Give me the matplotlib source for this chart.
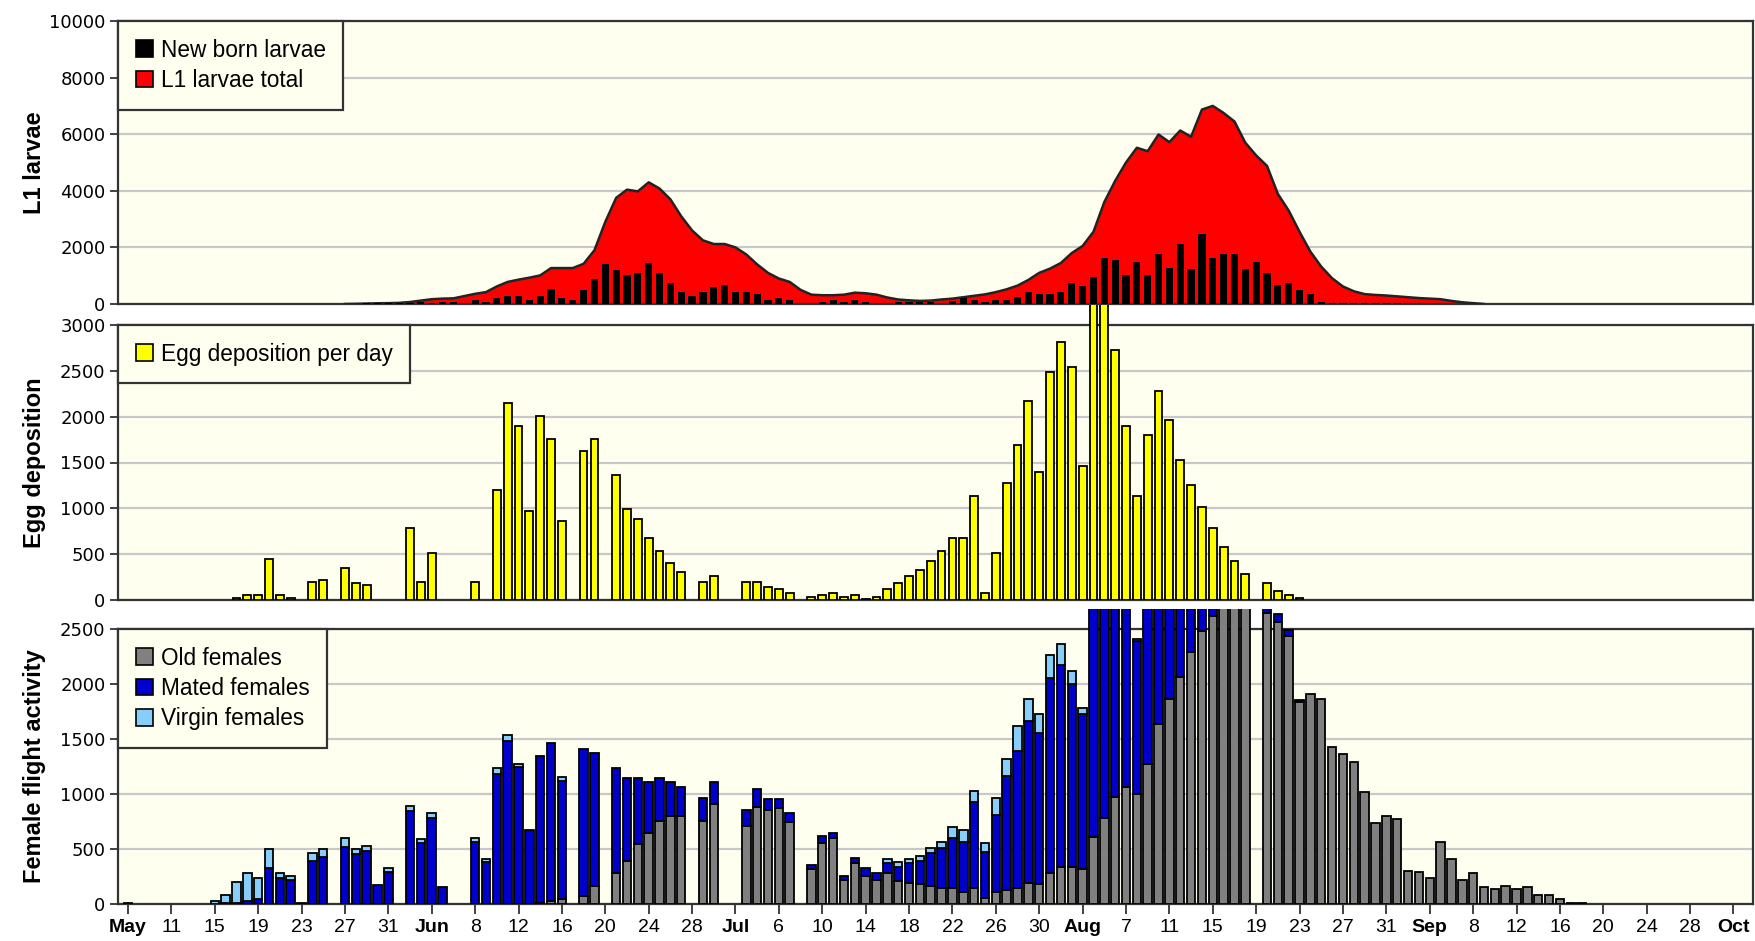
import numpy as np
import matplotlib
matplotlib.use('Agg')
import matplotlib.pyplot as plt
from matplotlib.patches import Patch, Rectangle

plt.rcParams['font.family'] = 'DejaVu Sans'

# day index 0 = May 7, one unit per day
tick_labels = ['May', '11', '15', '19', '23', '27', '31',
               'Jun', '8', '12', '16', '20', '24', '28',
               'Jul', '6', '10', '14', '18', '22', '26', '30',
               'Aug', '7', '11', '15', '19', '23', '27', '31',
               'Sep', '8', '12', '16', '20', '24', '28', 'Oct']
month_names = ['May', 'Jun', 'Jul', 'Aug', 'Sep', 'Oct']

# ---- L1 larvae ----
l1_days = list(range(20, 126))
l1_total = [0, 5, 15, 25, 30, 40, 70, 120, 170, 190,
            200, 280, 360, 420, 620, 780, 860, 930, 1010, 1270,
            1270, 1270, 1420, 1900, 2900, 3750, 4040, 3980, 4300, 4080,
            3700, 3100, 2600, 2250, 2120, 2120, 2000, 1750, 1400, 1100,
            900, 780, 500, 330, 310, 310, 330, 400, 380, 330,
            230, 160, 130, 110, 120, 160, 190, 240, 290, 340,
            420, 520, 650, 850, 1100, 1250, 1450, 1800, 2050, 2550,
            3600, 4350, 5000, 5520, 5400, 5990, 5720, 6130, 5910, 6870,
            7000, 6750, 6450, 5700, 5250, 4880, 3890, 3300, 2550, 1850,
            1320, 910, 620, 450, 350, 320, 300, 270, 240, 210,
            190, 170, 110, 60, 30, 0]

newborn_days = [22, 23, 24, 25, 26, 27, 28, 29, 30, 32, 33, 34, 35, 36, 37, 38, 39, 40,
                41, 42, 43, 44, 45, 46, 47, 48, 49, 50, 51, 52, 53, 54, 55, 56, 57, 58,
                59, 60, 61, 64, 65, 66, 67, 68, 71, 72, 73, 74, 76, 77, 78, 79, 80, 81,
                82, 83, 84, 85, 86, 87, 88, 89, 90, 91, 92, 93, 94, 95, 96, 97, 98, 99,
                100, 101, 102, 103, 104, 105, 106, 107, 108, 109, 110, 111, 112, 113,
                114, 115, 116, 117]
newborn = [20, 20, 20, 30, 40, 60, 50, 81, 81, 140, 81, 221, 291, 291, 140, 291, 547, 221,
           140, 488, 872, 1407, 1210, 1012, 1082, 1465, 1082, 744, 407, 291, 407, 616, 674, 407, 407, 349,
           140, 221, 140, 81, 140, 81, 140, 81, 81, 81, 60, 60, 93, 210, 152, 70, 152, 152,
           234, 420, 350, 350, 420, 759, 619, 969, 1611, 1553, 1027, 1494, 1027, 1751, 1284, 2137, 1238, 2487,
           1634, 1751, 1751, 1238, 1471, 1086, 677, 759, 479, 350, 60, 50, 50, 50,
           50, 50, 50, 50]

# ---- Egg deposition ----
egg_days = [10, 11, 12, 13, 14, 15, 17, 18, 20, 21, 22, 26, 27, 28, 32,
            34, 35, 36, 37, 38, 39, 40, 42, 43, 45, 46, 47, 48, 49, 50, 51, 53, 54,
            57, 58, 59, 60, 61, 63, 64, 65, 66, 67, 68, 69, 70, 71, 72, 73, 74, 75,
            76, 77, 78, 79, 80, 81, 82, 83, 84, 85, 86, 87, 88, 89, 90, 91, 92, 93,
            94, 95, 96, 97, 98, 99, 100, 101, 102, 103, 105, 106, 107, 108]
egg = [20, 55, 55, 451, 55, 20, 200, 218, 345, 182, 164, 782, 200, 509, 200,
       1200, 2145, 1898, 971, 2003, 1753, 865, 1629, 1753, 1360, 989, 884, 676, 531, 404, 302, 200, 262,
       200, 200, 138, 116, 73, 36, 55, 73, 36, 55, 15, 36, 116, 182, 262, 327, 429, 531,
       676, 676, 1131, 73, 509, 1280, 1694, 2171, 1400, 2483, 2811, 2542, 1465, 3400, 3350, 2727, 1898, 1131,
       1796, 2276, 1960, 1527, 1258, 1011, 782, 575, 429, 284, 182, 98, 55, 18]

# ---- Female flight activity ----
female_days = [0, 8, 9, 10, 11, 12, 13, 14, 15, 16, 17, 18, 20, 21, 22, 23, 24,
               26, 27, 28, 29, 32, 33, 34, 35, 36, 37, 38, 39, 40, 42, 43,
               45, 46, 47, 48, 49, 50, 51, 53, 54, 57, 58, 59, 60, 61,
               63, 64, 65, 66, 67, 68, 69, 70, 71, 72, 73, 74, 75, 76, 77, 78, 79,
               80, 81, 82, 83, 84, 85, 86, 87, 88, 89, 90, 91, 92, 93, 94, 95, 96,
               97, 98, 99, 100, 101, 102, 103, 105, 106, 107, 108, 109, 110, 111,
               112, 113, 114, 115, 116, 117, 118, 119, 120, 121, 122, 123, 124,
               125, 126, 127, 128, 129, 130, 131, 132, 133, 134]
old_f = [0, 0, 0, 0, 0, 0, 0, 0, 0, 0, 0, 0, 0, 0, 0, 0, 0,
         0, 0, 0, 0, 0, 0, 0, 0, 0, 0, 10, 27, 45, 76, 164,
         285, 391, 542, 648, 754, 800, 800, 754, 906, 712, 885, 855, 870, 748,
         315, 557, 597, 218, 370, 255, 218, 285, 212, 194, 179, 164, 142, 142, 106, 142, 58,
         106, 127, 142, 194, 179, 285, 339, 339, 318, 612, 785, 976, 1061, 997, 1270, 1633, 1860,
         2067, 2294, 2482, 2618, 2900, 2850, 2800, 2648, 2560, 2440, 1840, 1906, 1860, 1430,
         1360, 1288, 1015, 733, 803, 770, 303, 288, 233, 560, 409, 218, 285,
         152, 133, 164, 133, 152, 82, 82, 42, 12, 12]
mated_f = [12, 3, 10, 10, 27, 48, 324, 239, 218, 12, 391, 430, 515, 451, 482, 173, 294,
           848, 551, 779, 158, 567, 379, 1182, 1485, 1242, 673, 1335, 1433, 1073, 1333, 1212,
           954, 757, 606, 464, 394, 312, 261, 207, 206, 143, 160, 100, 85, 76,
           40, 61, 51, 37, 51, 69, 67, 85, 127, 176, 212, 297, 370, 455, 461, 788, 418,
           703, 1039, 1251, 1472, 1379, 1773, 1833, 1657, 1406, 2300, 2200, 2100, 2000, 1391, 1700, 1400, 1200,
           1000, 800, 600, 400, 0, 0, 0, 200, 76, 52, 15, 0, 0, 0,
           0, 0, 0, 0, 0, 0, 0, 0, 0, 0, 0, 0, 0,
           0, 0, 0, 0, 0, 0, 0, 0, 0, 0]
virgin_f = [0, 24, 72, 193, 258, 191, 173, 46, 37, 0, 69, 67, 82, 46, 48, 0, 36,
            43, 37, 45, 0, 30, 30, 57, 48, 31, 0, 0, 0, 33, 0, 0,
            0, 0, 0, 0, 0, 0, 0, 0, 0, 0, 0, 0, 0, 0,
            0, 0, 0, 0, 0, 0, 0, 39, 45, 36, 48, 51, 48, 100, 106, 100, 82,
            152, 152, 224, 194, 173, 203, 194, 121, 61, 0, 0, 0, 0, 24, 0, 0, 0,
            0, 0, 0, 0, 0, 0, 0, 0, 0, 0, 0, 0, 0, 0,
            0, 0, 0, 0, 0, 0, 0, 0, 0, 0, 0, 0, 0,
            0, 0, 0, 0, 0, 0, 0, 0, 0, 0]

BG = '#FFFFF0'
EDGE = '#333333'
W, H = 1756, 941
fig = plt.figure(figsize=(W / 100, H / 100), dpi=100, facecolor='white')

left, right = 118 / W, 1753 / W
def panel(top_px, bot_px):
    return fig.add_axes([left, 1 - bot_px / H, right - left, (bot_px - top_px) / H])

ax1 = panel(21, 304)
ax2 = panel(325, 600)
ax3 = panel(629, 904)
axes = [ax1, ax2, ax3]

xlim = (-0.92, 149.8)
for ax in axes:
    ax.set_facecolor(BG)
    ax.set_xlim(*xlim)
    ax.set_axisbelow(True)
    ax.yaxis.grid(True, color='#C8C8C8', lw=1.6)
    for s in ax.spines.values():
        s.set_color(EDGE)
        s.set_linewidth(1.6)
    ax.tick_params(axis='y', length=6, width=1.3, color=EDGE, labelsize=13, pad=3)
    ax.set_xticks(np.arange(0, 149, 4))

ax1.tick_params(axis='x', bottom=False, labelbottom=False)
ax2.tick_params(axis='x', bottom=False, labelbottom=False)


def clip_above(ax, patches):
    # bars that overflow the panel are cut a little above its top edge
    rect = Rectangle((0, 0), 1, 1.072, transform=ax.transAxes)
    for p in patches:
        p.set_clip_path(rect)

# ---- top panel ----
ax1.fill_between(l1_days, l1_total, 0, color='#FF0000', lw=0, zorder=2)
ax1.plot(l1_days, l1_total, color='#222222', lw=1.8, zorder=3)
ax1.bar(newborn_days, newborn, width=0.66, color='black', lw=0, zorder=4)
ax1.set_ylim(0, 10000)
ax1.set_yticks(np.arange(0, 10001, 2000))
ax1.set_ylabel('L1 larvae', fontsize=17, fontweight='bold', family='Liberation Sans')

# ---- middle panel ----
bars = ax2.bar(egg_days, egg, width=0.72, color='#FFFF00', edgecolor='black', lw=1.3, zorder=3)
clip_above(ax2, bars)
ax2.set_ylim(0, 3000)
ax2.set_yticks(np.arange(0, 3001, 500))
ax2.set_ylabel('Egg deposition', fontsize=17, fontweight='bold', family='Liberation Sans')

# ---- bottom panel ----
old_a = np.array(old_f)
mated_a = np.array(mated_f)
virgin_a = np.array(virgin_f)
b1 = ax3.bar(female_days, old_a, width=0.78, color='#808080', edgecolor='black', lw=1.3, zorder=3)
b2 = ax3.bar(female_days, mated_a, bottom=old_a, width=0.78, color='#0000CC', edgecolor='black', lw=1.3, zorder=3)
b3 = ax3.bar(female_days, virgin_a, bottom=old_a + mated_a, width=0.78, color='#87CEFA', edgecolor='black', lw=1.3, zorder=3)
for grp in (b1, b2, b3):
    clip_above(ax3, [p for p in grp if p.get_height() > 0])
    for p in grp:
        if p.get_height() <= 0:
            p.set_visible(False)
ax3.set_ylim(0, 2500)
ax3.set_yticks(np.arange(0, 2501, 500))
ax3.set_ylabel('Female flight activity', fontsize=17, fontweight='bold', family='Liberation Sans')

ax3.set_xticklabels(tick_labels)
ax3.tick_params(axis='x', length=7, width=1.3, color=EDGE, labelsize=14, pad=4)
for t in ax3.get_xticklabels():
    t.set_family('Liberation Sans')
    if t.get_text() in month_names:
        t.set_fontweight('bold')

for ax in axes:
    ax.yaxis.set_label_coords(-0.044, 0.5)

# ---- legends ----
def add_legend(ax, labels, colors):
    handles = [Patch(facecolor=c, edgecolor='black', lw=1.2) for c in colors]
    leg = ax.legend(handles, labels, loc='upper left', bbox_to_anchor=(0, 1),
                    borderaxespad=0, fancybox=False, framealpha=1,
                    facecolor=BG, edgecolor=EDGE, handlelength=0.75, handleheight=0.75,
                    handletextpad=0.35, labelspacing=0.32, borderpad=0.78,
                    prop={'family': 'Liberation Sans', 'size': 16.3})
    leg.get_frame().set_linewidth(1.6)
    leg.set_zorder(10)

add_legend(ax1, ['New born larvae', 'L1 larvae total'], ['black', '#FF0000'])
add_legend(ax2, ['Egg deposition per day'], ['#FFFF00'])
add_legend(ax3, ['Old females', 'Mated females', 'Virgin females'], ['#808080', '#0000CC', '#87CEFA'])

fig.savefig('out.png', dpi=100, facecolor='white')
